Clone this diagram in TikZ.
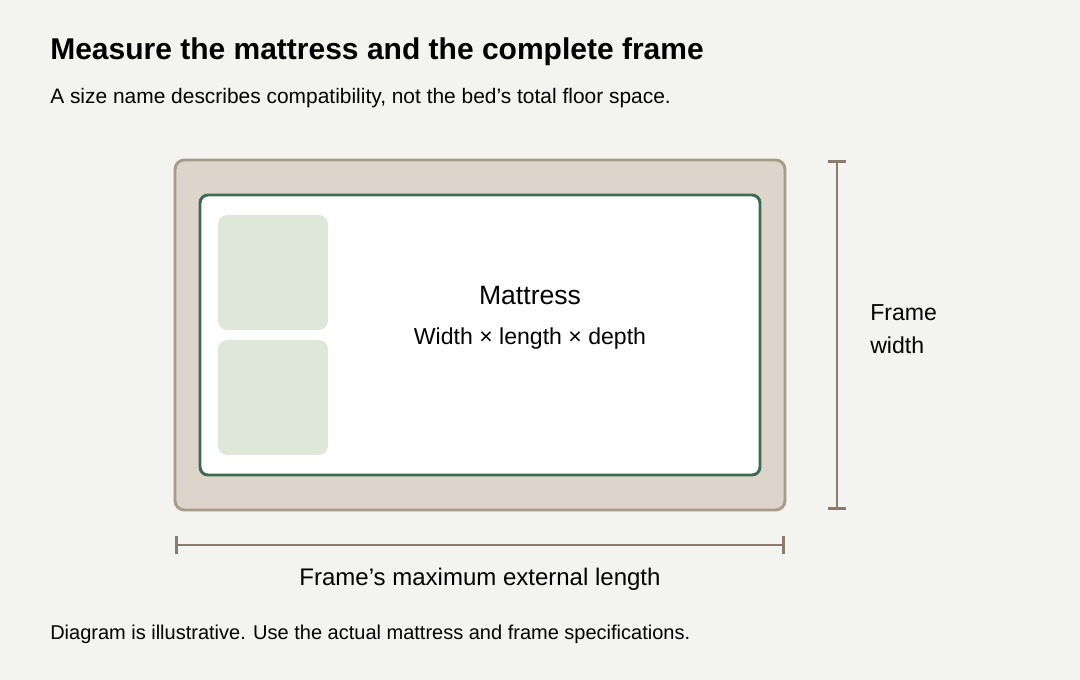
\documentclass[tikz,border=0pt]{standalone}
\usepackage{fontspec}
\setmainfont{Liberation Sans}
\usepackage{tikz}
\usetikzlibrary{positioning,arrows.meta}

\definecolor{paper}{HTML}{F3F3F0}
\definecolor{ink}{HTML}{262624}
\definecolor{framefill}{HTML}{DDD5CB}
\definecolor{frameline}{HTML}{A89B8A}
\definecolor{mattline}{HTML}{3D6B4F}
\definecolor{pillowfill}{HTML}{DFE7DB}
\definecolor{dimline}{HTML}{8C7B6B}

\begin{document}
\begin{tikzpicture}[x=0.75pt,y=-0.75pt,font=\color{ink}]
    \tikzstyle{bedframe}=[draw=frameline, fill=framefill, line width=2.2pt, rounded corners=7pt]
    \tikzstyle{mattress}=[draw=mattline, fill=white, line width=2.2pt, rounded corners=6pt]
    \tikzstyle{pillow}=[fill=pillowfill, rounded corners=7pt]
    \tikzstyle{dim}=[draw=dimline, line width=2pt, {Bar[width=14pt]}-{Bar[width=14pt]}]
    \tikzstyle{label}=[inner sep=0pt, font=\fontsize{17.3pt}{24.75pt}\selectfont]

    % page and margins
    \fill[paper] (0,0) rectangle (1080,680);
    \useasboundingbox (0,0) rectangle (1080,680);

    % headings
    \node[anchor=base west, inner sep=0pt, font=\bfseries\fontsize{22.5pt}{27pt}\selectfont] (title) at (50,60) {Measure the mattress and the complete frame};
    \node[anchor=base west, inner sep=0pt, font=\fontsize{15.7pt}{20pt}\selectfont] (subtitle) at (50,104) {A size name describes compatibility, not the bed’s total floor space.};

    % bed
    \draw[bedframe] (175,160) rectangle (785,510);
    \draw[mattress] (200,195) rectangle (760,475);
    \fill[pillow] (218,215) rectangle (328,330);
    \fill[pillow] (218,340) rectangle (328,455);
    \node[inner sep=0pt, font=\fontsize{19.9pt}{24pt}\selectfont] (mattname) at (530,296) {Mattress};
    \node[label] (mattsize) at (530,339) {Width × length × depth};

    % dimensions
    \coordinate (wtop) at (837,160);
    \coordinate (wbot) at (837,510);
    \coordinate (lleft) at (175,545);
    \coordinate (lright) at (785,545);
    \draw[dim] (wtop) -- (wbot);
    \draw[dim] (lleft) -- node[label, below=16.5pt, font=\fontsize{18pt}{24pt}\selectfont] (lengthlabel) {Frame’s maximum external length} (lright);
    \node[label, anchor=west, align=left] (widthlabel) at (870,329) {Frame\\width};

    % note
    \node[anchor=base west, inner sep=0pt, font=\fontsize{15pt}{18pt}\selectfont] (note) at (50,639) {Diagram is illustrative. Use the actual mattress and frame specifications.};
\end{tikzpicture}
\end{document}
